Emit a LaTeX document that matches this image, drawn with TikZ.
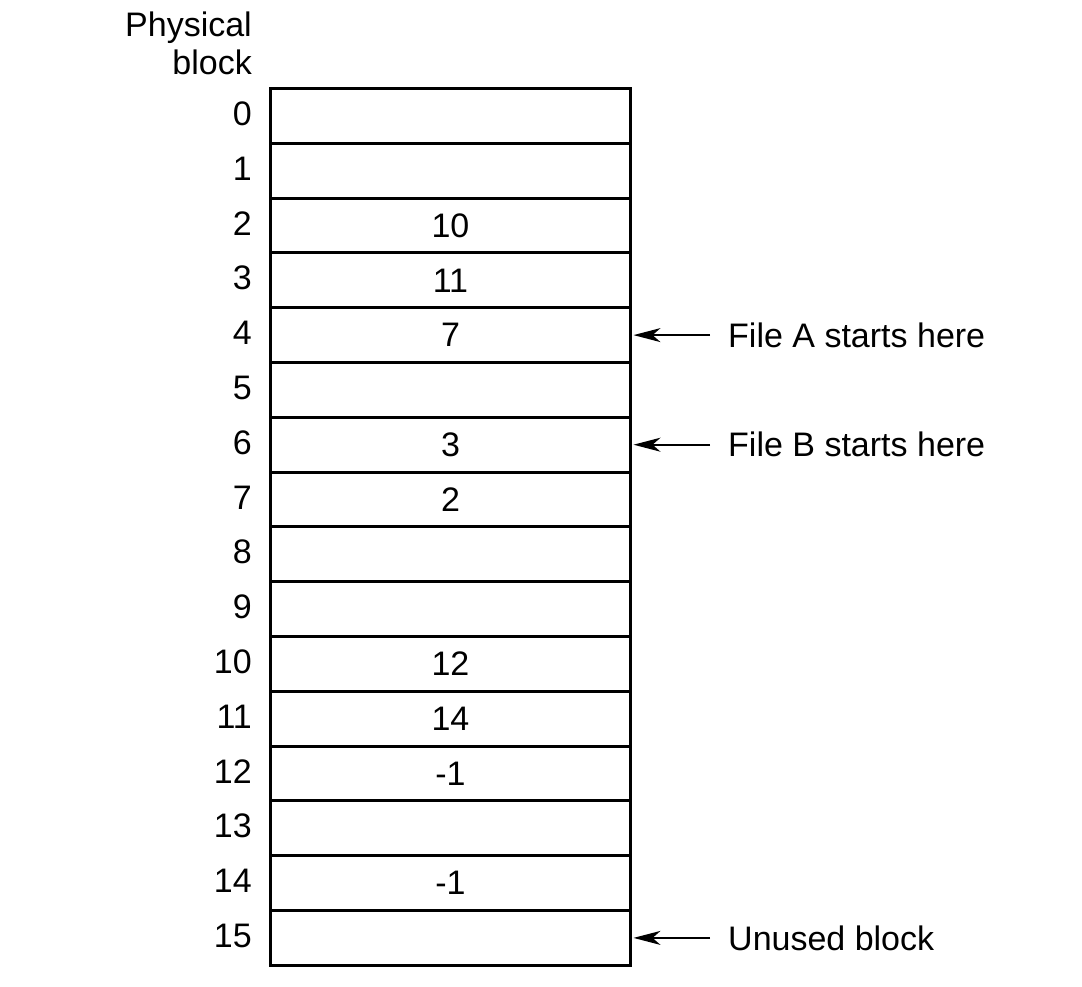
\documentclass[tikz,border=0pt]{standalone}
\usepackage{fontspec}
\setmainfont{Liberation Sans}
\usetikzlibrary{arrows.meta}
\begin{document}
\begin{tikzpicture}[x=1pt,y=-1pt,
  txt/.style={font=\fontsize{34}{38}\selectfont},
  cell/.style={txt,draw,line width=3pt,minimum width=360pt,minimum height=54.8pt,inner sep=0pt,anchor=north west},
  lbl/.style={txt,anchor=base east,inner sep=0pt},
  note/.style={txt,anchor=west,inner sep=0pt},
  ptr/.style={line width=1.8pt,-{Stealth[length=27pt,width=14pt,inset=8pt]}}]
\useasboundingbox (0,0) rectangle (1082,986);
\foreach \i/\v in {0/,1/,2/10,3/11,4/7,5/,6/3,7/2,8/,9/,10/12,11/14,12/-1,13/,14/-1,15/}{
  \node[cell] (c\i) at (269,{87+\i*54.8}) {\v};
  \node[lbl] (l\i) at (252,{87+\i*54.8+27.4+11}) {\i};
}
\node[lbl] (h1) at (252,36) {Physical};
\node[lbl] (h2) at (252,74) {block};
\coordinate (t1) at (728,0);
\coordinate (a1) at (710,0);
\node[note] (fa) at (t1|-c4.east) {File A starts here};
\node[note] (fb) at (t1|-c6.east) {File B starts here};
\node[note] (ub) at (t1|-c15.east) {Unused block};
\draw[ptr] (a1|-c4.east) -- ([xshift=1.5pt]c4.east);
\draw[ptr] (a1|-c6.east) -- ([xshift=1.5pt]c6.east);
\draw[ptr] (a1|-c15.east) -- ([xshift=1.5pt]c15.east);
\end{tikzpicture}
\end{document}
